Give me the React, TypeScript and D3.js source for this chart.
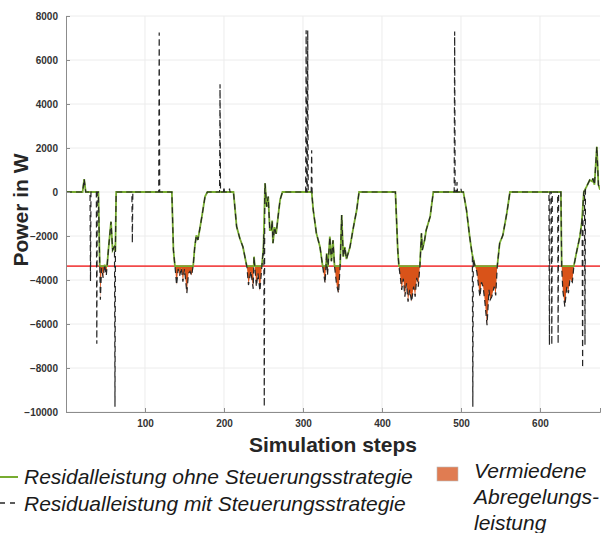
import React, { useRef, useEffect } from "react";
import * as d3 from "d3";

// residual power (underlying curve)
const baseSteps = [
  0, 21, 23, 25, 41, 43.5, 45, 47, 49, 51, 54, 57, 59, 61, 62.5, 63.5,
  134, 136, 138, 140, 142, 144, 146, 148, 150, 153, 155, 157, 159, 161, 163, 165, 167, 172, 176, 179,
  212, 216, 220, 224, 229, 231, 234, 237, 238, 241, 243, 245.5, 248, 250, 252, 254, 256, 258, 260, 261, 262, 264, 266, 269, 271, 274,
  311, 313, 317, 321.5, 325, 328, 330, 331, 334, 336, 338, 340, 342.5, 345, 347, 349, 351, 353, 355, 359.5, 364, 368, 371,
  417, 420, 421.5, 423, 425, 427, 429, 431, 433, 435, 437.5, 440, 442, 444, 446, 448, 450, 451, 454, 456, 461, 465,
  503, 507, 511, 514, 518, 520, 522, 524, 526, 528, 530, 533, 535.5, 537, 539, 542, 544, 546, 549, 553, 558, 562,
  626.5, 627.5, 629, 631.5, 634, 636, 638, 641, 643, 646, 650.5, 653, 655.5, 659, 663, 666, 667, 669, 672, 674, 676,
];
const baseValues = [
  0, 0, 590, 0, 0, -4900, -3450, -3900, -3300, -3800, -2500, -1350, -2640, -2500, -2700, 0,
  0, -2640, -3400, -4230, -3500, -3800, -3450, -4080, -3500, -4600, -3700, -3600, -3800, -3350, -2490, -1970, -2180, -1120, -210, 0,
  0, -1570, -2100, -2500, -3400, -4230, -3600, -4400, -2940, -4300, -3700, -4500, -3350, -2500, 400, -670, -210, -1730, -1730, -1300, -2330, -1600, -1900, -960, -360, 0,
  0, -820, -1880, -2490, -3400, -4150, -2790, -3800, -2030, -3150, -2200, -3400, -4200, -4600, -3400, -1050, -2950, -2500, -3050, -2500, -1570, -820, 0,
  0, -2640, -3400, -3800, -4450, -3940, -4760, -4150, -4990, -4450, -4990, -4300, -4760, -3900, -4300, -3350, -1880, -2640, -2180, -1730, -1120, 0,
  0, -820, -2030, -2790, -3400, -3600, -4200, -4760, -4100, -4300, -4900, -6050, -4450, -4900, -4760, -4300, -4700, -3350, -2330, -1970, -970, 0,
  0, -3400, -4500, -5210, -4300, -4600, -3950, -4100, -3350, -2790, -2030, -1360, 0, 240, 545, 480, 620, 330, 2060, 330, 100,
];

// spikes of the controlled residual (dashed line)
const spikeSteps = [31, 39, 62, 84, 118, 195, 200, 207, 251, 304, 306, 311, 492, 495, 500, 515, 612, 615, 623, 654, 657];
const spikeValues = [-4050, -6900, -9760, -2320, 7250, 4900, 250, 150, -9760, 7350, 7350, 1900, 7300, 450, 150, -9760, -6950, -6950, -6900, -8000, -6950];

const curtailLimit = -3370;

const yTicks = [-10000, -8000, -6000, -4000, -2000, 0, 2000, 4000, 6000, 8000];
const xTicks = [100, 200, 300, 400, 500, 600];

const legendLines = [
  "Residalleistung ohne Steuerungsstrategie",
  "Residualleistung mit Steuerungsstrategie",
];
const legendAreaLines = ["Vermiedene", "Abregelungs-", "leistung"];

function App() {
  const svgRef = useRef<SVGSVGElement>(null);

  const width = 601;
  const height = 533;
  const left = 66;
  const right = 600;
  const top = 16;
  const bottom = 412;

  useEffect(() => {
    const svg = d3.select(svgRef.current);
    svg.selectAll("*").remove();

    const x = d3.scaleLinear().domain([0, 676]).range([left, right]);
    const y = d3.scaleLinear().domain([-10000, 8000]).range([bottom, top]);

    const base: [number, number][] = baseSteps.map((s, i) => [s, baseValues[i]]);
    const baseAt = d3.scaleLinear().domain(baseSteps).range(baseValues);

    // green: residual clipped at the curtailment limit
    const green: [number, number][] = [];
    base.forEach((p, i) => {
      if (i > 0) {
        const q = base[i - 1];
        if ((q[1] - curtailLimit) * (p[1] - curtailLimit) < 0) {
          const t = (curtailLimit - q[1]) / (p[1] - q[1]);
          green.push([q[0] + t * (p[0] - q[0]), curtailLimit]);
        }
      }
      green.push([p[0], Math.max(p[1], curtailLimit)]);
    });

    // dashed: residual with spikes
    const hw = 0.6;
    let dashed: [number, number][] = base.filter(
      (p) => !spikeSteps.some((s) => Math.abs(p[0] - s) <= hw)
    );
    spikeSteps.forEach((s, i) => {
      dashed.push([s - hw, baseAt(s - hw)]);
      dashed.push([s, spikeValues[i]]);
      dashed.push([s + hw, baseAt(s + hw)]);
    });
    dashed = dashed.sort((a, b) => a[0] - b[0]);

    const defs = svg.append("defs");
    defs
      .append("clipPath")
      .attr("id", "plot-clip")
      .append("rect")
      .attr("x", left)
      .attr("y", top - 2)
      .attr("width", right - left)
      .attr("height", bottom - top + 2);
    defs
      .append("clipPath")
      .attr("id", "below-clip")
      .append("rect")
      .attr("x", left)
      .attr("y", y(curtailLimit))
      .attr("width", right - left)
      .attr("height", bottom - y(curtailLimit));

    // grid
    svg
      .append("g")
      .selectAll("line")
      .data(yTicks)
      .join("line")
      .attr("x1", left)
      .attr("x2", right)
      .attr("y1", (d) => y(d))
      .attr("y2", (d) => y(d))
      .attr("stroke", "#ececec")
      .attr("stroke-width", 1);
    svg
      .append("g")
      .selectAll("line")
      .data(xTicks)
      .join("line")
      .attr("x1", (d) => x(d))
      .attr("x2", (d) => x(d))
      .attr("y1", top)
      .attr("y2", bottom)
      .attr("stroke", "#ececec")
      .attr("stroke-width", 1);

    const plot = svg.append("g").attr("clip-path", "url(#plot-clip)");

    // avoided curtailment area
    const area = d3
      .area<[number, number]>()
      .x((d) => x(d[0]))
      .y0(y(curtailLimit))
      .y1((d) => y(d[1]));
    plot
      .append("g")
      .attr("clip-path", "url(#below-clip)")
      .append("path")
      .datum(base)
      .attr("d", area)
      .attr("fill", "#d95319");

    const line = d3
      .line<[number, number]>()
      .x((d) => x(d[0]))
      .y((d) => y(d[1]));

    plot
      .append("line")
      .attr("x1", left)
      .attr("x2", right)
      .attr("y1", y(curtailLimit))
      .attr("y2", y(curtailLimit))
      .attr("stroke", "#f24a4a")
      .attr("stroke-width", 1.6);

    plot
      .append("path")
      .datum(green)
      .attr("d", line)
      .attr("fill", "none")
      .attr("stroke", "#77ac30")
      .attr("stroke-width", 1.8);

    plot
      .append("path")
      .datum(dashed)
      .attr("d", line)
      .attr("fill", "none")
      .attr("stroke", "#262626")
      .attr("stroke-width", 1.2)
      .attr("stroke-dasharray", "6,4");

    // axes
    const yAxis = d3
      .axisLeft(y)
      .tickValues(yTicks)
      .tickSize(-4)
      .tickPadding(8)
      .tickFormat(d3.format("d"));
    const gy = svg.append("g").attr("transform", `translate(${left},0)`).call(yAxis);
    const xAxis = d3
      .axisBottom(x)
      .tickValues(xTicks)
      .tickSize(-4)
      .tickPadding(8)
      .tickFormat(d3.format("d"));
    const gx = svg.append("g").attr("transform", `translate(0,${bottom})`).call(xAxis);
    [gx, gy].forEach((g) => {
      g.select(".domain").attr("stroke", "#8c8c8c");
      g.selectAll(".tick line").attr("stroke", "#8c8c8c");
      g.selectAll(".tick text")
        .attr("fill", "#333")
        .attr("font-family", "Liberation Sans, Arial, sans-serif")
        .attr("font-weight", "bold")
        .attr("font-size", 10);
    });

    // axis titles
    svg
      .append("text")
      .attr("x", 333)
      .attr("y", 452)
      .attr("text-anchor", "middle")
      .attr("font-family", "Liberation Sans, Arial, sans-serif")
      .attr("font-weight", "bold")
      .attr("font-size", 21)
      .attr("fill", "#262626")
      .text("Simulation steps");
    svg
      .append("text")
      .attr("transform", "translate(28,210) rotate(-90)")
      .attr("text-anchor", "middle")
      .attr("font-family", "Liberation Sans, Arial, sans-serif")
      .attr("font-weight", "bold")
      .attr("font-size", 21)
      .attr("fill", "#262626")
      .text("Power in W");

    // legend
    const lg = svg
      .append("g")
      .attr("font-family", "Liberation Sans, Arial, sans-serif")
      .attr("font-style", "italic")
      .attr("font-size", 21)
      .attr("fill", "#1a1a1a");
    lg.append("line")
      .attr("x1", 0)
      .attr("x2", 18)
      .attr("y1", 477)
      .attr("y2", 477)
      .attr("stroke", "#77ac30")
      .attr("stroke-width", 2);
    lg.append("line")
      .attr("x1", 0)
      .attr("x2", 15)
      .attr("y1", 503)
      .attr("y2", 503)
      .attr("stroke", "#262626")
      .attr("stroke-width", 1.5)
      .attr("stroke-dasharray", "5,5");
    lg.selectAll("text.l")
      .data(legendLines)
      .join("text")
      .attr("class", "l")
      .attr("x", 24)
      .attr("y", (_, i) => 484 + i * 27)
      .text((d) => d);
    lg.append("rect")
      .attr("x", 437)
      .attr("y", 467)
      .attr("width", 21)
      .attr("height", 14)
      .attr("fill", "#e07c52")
      .attr("stroke", "#bbb")
      .attr("stroke-width", 0.6);
    lg.selectAll("text.a")
      .data(legendAreaLines)
      .join("text")
      .attr("class", "a")
      .attr("x", 474)
      .attr("y", (_, i) => 478 + i * 26)
      .text((d) => d);
  }, []);

  return (
    <svg
      ref={svgRef}
      width={width}
      height={height}
      style={{ position: "absolute", left: 0, top: 0, background: "#fff" }}
    />
  );
}

export default App;
